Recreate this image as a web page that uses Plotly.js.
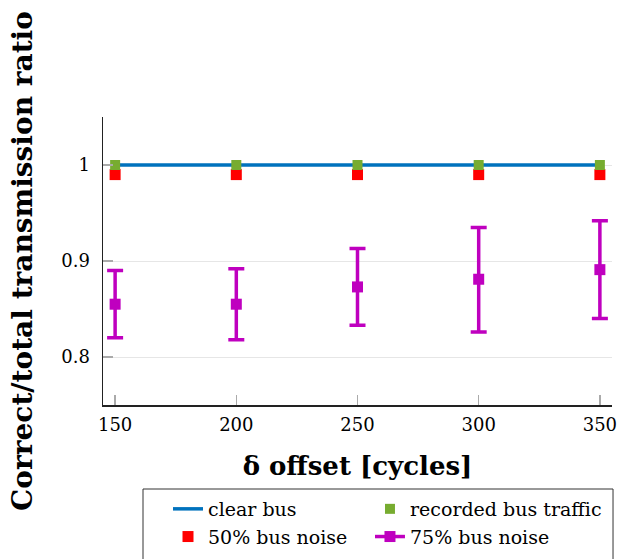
<!DOCTYPE html>
<html><head><meta charset="utf-8">
<script src="https://cdn.plot.ly/plotly-3.0.1.min.js"></script>
<style>html,body{margin:0;padding:0;background:#fff}</style>
</head><body>
<div id="chart" style="width:620px;height:559px"></div>
<script>
const offsets = [150, 200, 250, 300, 350];
const clearBus = [1, 1, 1, 1, 1];
const recordedTraffic = [1, 1, 1, 1, 1];
const noise50 = [0.99, 0.99, 0.99, 0.99, 0.99];
const noise75 = [0.855, 0.855, 0.873, 0.881, 0.891];
const noise75Upper = [0.890, 0.892, 0.913, 0.935, 0.942];
const noise75Lower = [0.820, 0.818, 0.833, 0.826, 0.840];
const yTicks = [0.8, 0.9, 1];
const yTickLabels = ['0.8', '0.9', '1'];

const FONT = 'DejaVu Serif';
const errPlus = noise75Upper.map((u, i) => u - noise75[i]);
const errMinus = noise75Lower.map((l, i) => noise75[i] - l);
// interleave gaps so the 75% series has a line style (for its legend) without connecting points
const gapX = offsets.flatMap(v => [v, null]);
const gapY = noise75.flatMap(v => [v, null]);
const gapPlus = errPlus.flatMap(v => [v, 0]);
const gapMinus = errMinus.flatMap(v => [v, 0]);

const traces = [
  {x: offsets, y: noise50, name: '50% bus noise', mode: 'markers', type: 'scatter',
   marker: {symbol: 'square', size: 11, color: '#ff0000'}, legend: 'legend', legendgroup: 'c', legendrank: 2},
  {x: offsets, y: clearBus, name: 'clear bus', mode: 'lines', type: 'scatter',
   line: {color: '#0072bd', width: 3.5}, legend: 'legend', legendgroup: 'a', legendrank: 1},
  {x: offsets, y: recordedTraffic, name: 'recorded bus traffic', mode: 'markers', type: 'scatter',
   marker: {symbol: 'square', size: 10, color: '#77ac30'}, legend: 'legend2', legendgroup: 'b', legendrank: 1},
  {x: gapX, y: gapY, name: '75% bus noise', mode: 'lines+markers', type: 'scatter', connectgaps: false,
   line: {color: '#bf00bf', width: 3.5}, marker: {symbol: 'square', size: 11, color: '#bf00bf'},
   error_y: {type: 'data', symmetric: false, array: gapPlus, arrayminus: gapMinus,
             color: '#bf00bf', thickness: 3.5, width: 8}, legend: 'legend2', legendgroup: 'd', legendrank: 2}
];

const legendCommon = {
  orientation: 'v', xanchor: 'left', yanchor: 'top',
  borderwidth: 0, bgcolor: 'rgba(0,0,0,0)', tracegroupgap: 10,
  font: {family: FONT, size: 19}, traceorder: 'normal'
};

const layout = {
  width: 620, height: 559,
  margin: {l: 103, r: 8, t: 117, b: 154, autoexpand: false},
  paper_bgcolor: '#fff', plot_bgcolor: '#fff',
  font: {family: FONT, color: '#000', size: 18},
  showlegend: true,
  xaxis: {
    range: [145, 355], tickvals: offsets, ticktext: offsets.map(String),
    showgrid: false, zeroline: false,
    showline: true, linecolor: '#222', linewidth: 1.5,
    ticks: 'inside', ticklen: 10, tickcolor: '#aaa', tickwidth: 1.5,
    tickfont: {family: FONT, size: 18}, ticklabelstandoff: 3,
    title: {text: '<b>δ offset [cycles]</b>', font: {family: FONT, size: 26}, standoff: 22}
  },
  yaxis: {
    range: [0.75, 1.05], tickvals: yTicks, ticktext: yTickLabels,
    showgrid: true, gridcolor: '#e6e6e6', gridwidth: 1, zeroline: false,
    showline: true, linecolor: '#222', linewidth: 1.5,
    ticks: 'inside', ticklen: 10, tickcolor: '#aaa', tickwidth: 1.5,
    tickfont: {family: FONT, size: 18}, ticklabelstandoff: 8,
    title: {text: '<b>Correct/total transmission ratio</b>', font: {family: FONT, size: 28}, standoff: 20}
  },
  legend: Object.assign({x: 0.1277, y: -0.2951}, legendCommon),
  legend2: Object.assign({x: 0.5245, y: -0.2951}, legendCommon),
  shapes: [{type: 'rect', xref: 'paper', yref: 'paper', x0: 0.0786, x1: 1.002, y0: -0.2917, y1: -0.56,
            line: {color: '#333', width: 1}, fillcolor: 'rgba(0,0,0,0)', layer: 'above'}]
};

Plotly.newPlot('chart', traces, layout, {displayModeBar: false, staticPlot: true});
</script>
</body></html>
